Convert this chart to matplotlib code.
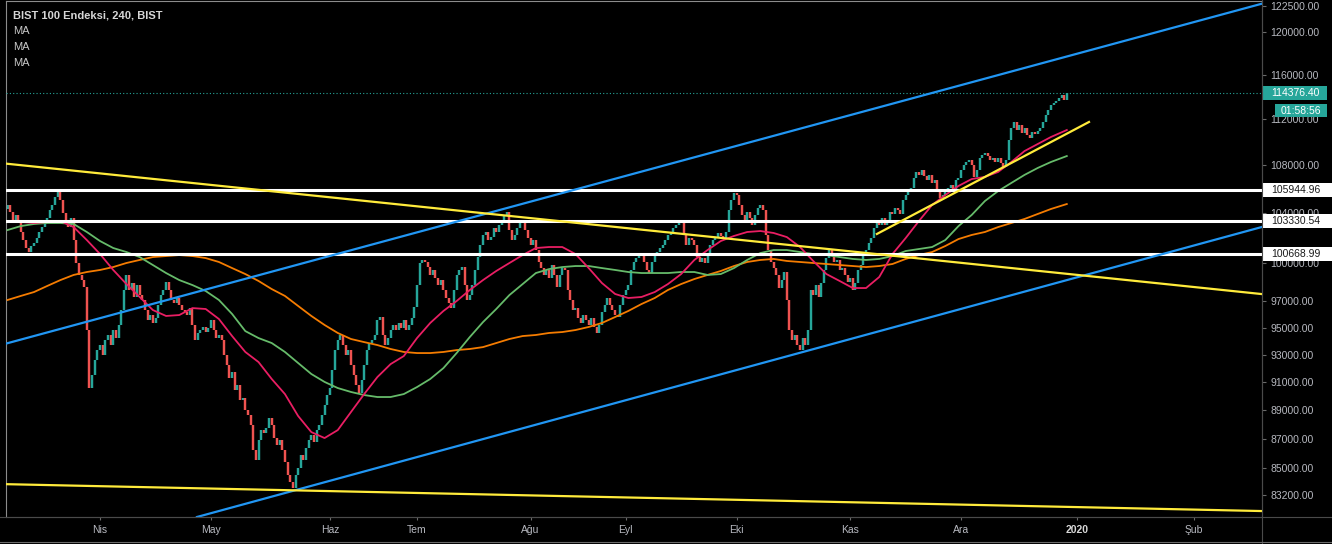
import numpy as np
import matplotlib
matplotlib.use("Agg")
import matplotlib.pyplot as plt
from matplotlib.ticker import FixedLocator, FuncFormatter, NullLocator
from matplotlib.patches import Rectangle
from matplotlib.lines import Line2D

# 4h closes, BIST 100 (bar index 0 = first visible bar)
closes = [
    104670, 104090, 103430, 103850, 103270, 102460, 101810, 101170, 100850, 101330,
    101570, 101970, 102460, 102860, 103270, 103600, 104260, 104670, 105330, 105750,
    105080, 104010, 103430, 102860, 103600, 101810, 99980, 99040, 98640, 98100,
    94820, 90570, 91510, 92600, 93330, 93700, 92970, 94070, 94450, 93700,
    94820, 94220, 95200, 96330, 97870, 99040, 97870, 98410, 97330, 98250,
    97480, 97100, 96330, 95570, 95950, 95350, 95730, 96710, 97480, 97870,
    98490, 97870, 97100, 96870, 97250, 96710, 96330, 96180, 95950, 96480,
    95200, 94070, 94600, 94820, 95050, 94670, 94970, 95570, 94820, 94220,
    94450, 94070, 92970, 92230, 91290, 91720, 90430, 90790, 89720, 89860,
    89010, 88660, 87960, 86240, 85560, 86920, 87610, 87400, 87750, 88450,
    87960, 87060, 86580, 86920, 86240, 85430, 84550, 84080, 83680, 84550,
    85020, 85900, 85560, 86380, 86920, 87270, 86790, 87610, 87960, 88660,
    89360, 90070, 90570, 91870, 93330, 94070, 94450, 93700, 92970, 93330,
    92230, 91510, 90790, 90220, 91150, 92230, 93330, 93850, 94070, 94450,
    95570, 95800, 94450, 93700, 94220, 94820, 95200, 94820, 95350, 94970,
    95570, 94820, 95200, 95730, 96560, 98250, 99980, 100220, 100060, 99660,
    99040, 99430, 98800, 98250, 98640, 97870, 97250, 96870, 96480, 97870,
    99040, 99430, 99660, 98250, 97100, 97480, 98250, 99430, 100450, 101410,
    102220, 102460, 101810, 102050, 102780, 102460, 103030, 103270, 103850, 104090,
    102620, 101810, 102220, 102780, 103270, 103430, 102620, 101970, 101410, 101810,
    101010, 100060, 99580, 99040, 99430, 98800, 99820, 99040, 98100, 99040,
    99580, 99430, 97870, 97100, 96330, 96480, 95730, 95350, 95950, 95570,
    95200, 95730, 95050, 94600, 95200, 96180, 96710, 97250, 96710, 96330,
    95950, 95800, 96710, 97480, 97870, 98250, 99430, 100060, 100370, 100770,
    100610, 100060, 99430, 99190, 100060, 100610, 100850, 101170, 101410, 101810,
    102220, 102460, 102780, 103030, 103270, 103430, 102220, 101410, 101970, 101810,
    101410, 100450, 100060, 100370, 99980, 100610, 101410, 101810, 102050, 102380,
    102140, 101970, 102460, 104260, 105080, 105670, 105500, 104670, 103850, 103430,
    104090, 103600, 103030, 103850, 104420, 104670, 104260, 102220, 101010, 100060,
    99580, 99040, 98020, 98640, 99270, 97100, 94820, 94070, 94450, 93700,
    93330, 94220, 93700, 94820, 97870, 97480, 98250, 97330, 98410, 99430,
    100370, 101010, 100610, 100060, 100220, 99430, 99580, 99040, 98490, 98800,
    97870, 98410, 99430, 99820, 100610, 101010, 101570, 101970, 102780, 103430,
    103030, 103600, 103030, 103270, 104090, 103930, 104420, 104260, 103930, 105080,
    105500, 105920, 106090, 106930, 107440, 107190, 107610, 107100, 106760, 107190,
    106510, 106760, 105920, 105250, 105500, 105920, 106090, 106340, 106000, 106760,
    106930, 107610, 108030, 108290, 108460, 108030, 107020, 107610, 108630, 108890,
    109060, 108800, 108460, 108630, 108290, 108630, 108200, 107860, 108460, 110190,
    111240, 111770, 111060, 111500, 110800, 111240, 110630, 110360, 110890, 110710,
    110970, 111240, 111770, 112390, 112830, 113280, 113460, 113640, 113910, 114180,
    113730, 114376.40,
]
first_open = 104300

# moving averages, every 5 bars (last one at the last bar)
ma_idx = list(range(0, 400, 5)) + [401]
ma_pink = [
    103350, 103270, 103190, 103270, 103350, 102860, 101810, 100690, 99430, 98330,
    97330, 96330, 95880, 95950, 96480, 96410, 95650, 94370, 93190, 92450,
    91220, 90140, 88590, 87470, 87060, 87610, 88870, 90140, 91360, 92300,
    92890, 94220, 95350, 96260, 97020, 97870, 98640, 99350, 99980, 100610,
    101170, 101250, 101250, 100690, 99580, 98410, 97560, 97250, 97330, 97710,
    98330, 99110, 100220, 101010, 101730, 102140, 102460, 102540, 102380, 102050,
    101250, 100140, 99110, 98570, 98020, 98020, 98880, 100690, 101970, 103350,
    104670, 105500, 106260, 106840, 107020, 107440, 108290, 109230, 109840, 110450,
    111060,
]
ma_green = [
    102620, 102940, 103110, 103190, 103190, 103110, 102460, 101730, 101170, 100850,
    100450, 99820, 99190, 98640, 98250, 97790, 97100, 96030, 94740, 94220,
    93850, 93190, 92380, 91580, 91010, 90570, 90290, 90070, 89930, 89930,
    90140, 90640, 91220, 92010, 93110, 94300, 95420, 96410, 97480, 98330,
    99190, 99500, 99660, 99740, 99740, 99580, 99430, 99270, 99190, 99190,
    99190, 99270, 99270, 99040, 99110, 99580, 100220, 100770, 101010, 101010,
    100850, 100690, 100610, 100450, 100300, 100220, 100300, 100530, 100930, 101090,
    101250, 101810, 102940, 103850, 105000, 105830, 106510, 107190, 107780, 108290,
    108800,
]
ma_orange = [
    97100, 97410, 97710, 98180, 98640, 99040, 99270, 99430, 99660, 99980,
    100220, 100450, 100530, 100610, 100530, 100370, 100060, 99580, 99110, 98570,
    97940, 97410, 96640, 95880, 95200, 94600, 94150, 93920, 93700, 93410,
    93190, 93110, 93110, 93190, 93330, 93410, 93550, 93850, 94150, 94370,
    94450, 94600, 94670, 94820, 95050, 95350, 95800, 96260, 96790, 97250,
    97870, 98330, 98720, 99040, 99350, 99740, 100060, 100220, 100300, 100140,
    100060, 99980, 99900, 99820, 99740, 99660, 99740, 99900, 100300, 100610,
    100850, 101330, 101890, 102220, 102460, 102860, 103190, 103520, 103930, 104340,
    104750,
]

# horizontal levels and trend lines (bar index, price)
levels = [105944.96, 103330.54, 100668.99]
last_price = 114376.40
blue_up = [(0, 93840), (400, 117640)]
blue_low = [(100, 83120), (400, 98580)]
yellow_long = [(0, 108135), (400, 99150)]
yellow_bottom = [(0, 83941), (400, 82454)]
yellow_short = [(329.1, 102300), (409.4, 111770)]

month_pos = [35, 77, 122, 155, 198, 234, 276, 319, 361, 405, 449]
month_lbl = ['Nis', 'May', 'Haz', 'Tem', 'Ağu', 'Eyl', 'Eki', 'Kas', 'Ara', '2020', 'Şub']
yticks = [122500, 120000, 116000, 112000, 108000, 104000, 100000, 97000, 95000,
          93000, 91000, 89000, 87000, 85000, 83200]

UP, DOWN = '#26a69a', '#ef5350'
TXT = '#b7b9c0'
W, H = 1332, 544

fig = plt.figure(figsize=(W / 100, H / 100), dpi=100, facecolor='black')
ax = fig.add_axes([6 / W, 27 / H, 1256 / W, 516 / H])
ax.set_facecolor('black')
ax.set_yscale('log')
ax.set_xlim(-0.6, 474.9)
ax.set_ylim(81793, 122985)

# candles
c = np.array(closes, dtype=float)
o = np.r_[first_open, c[:-1]]
x = np.arange(len(c))
col = np.where(c >= o, UP, DOWN)
ax.vlines(x, o, c, colors=col, lw=1.75, zorder=2)

# moving averages
ax.plot(ma_idx, ma_orange, color='#f57c00', lw=1.3, zorder=3)
ax.plot(ma_idx, ma_green, color='#66bb6a', lw=1.3, zorder=3)
ax.plot(ma_idx, ma_pink, color='#e91e63', lw=1.3, zorder=3)

# drawings
for p in levels:
    ax.axhline(p, color='white', lw=2.2, zorder=4)
ax.axhline(last_price, color=UP, lw=0.8, ls=(0, (1, 2)), zorder=4)
ax.axline(*blue_up, color='#2196f3', lw=1.6, zorder=4)
ax.axline(*blue_low, color='#2196f3', lw=1.6, zorder=4)
ax.axline(*yellow_long, color='#ffeb3b', lw=1.6, zorder=4)
ax.axline(*yellow_bottom, color='#ffeb3b', lw=1.6, zorder=4)
ax.plot([yellow_short[0][0], yellow_short[1][0]], [yellow_short[0][1], yellow_short[1][1]],
        color='#ffeb3b', lw=1.6, zorder=4)

# axes styling
for s in ['left', 'top']:
    ax.spines[s].set_color('#8c8c8c')
for s in ['right', 'bottom']:
    ax.spines[s].set_color('#4a4a4a')
for s in ax.spines.values():
    s.set_linewidth(0.8)

ax.yaxis.tick_right()
ax.yaxis.set_major_locator(FixedLocator(yticks))
ax.yaxis.set_minor_locator(NullLocator())
ax.yaxis.set_major_formatter(FuncFormatter(lambda v, _: f'{v:.2f}'))
ax.tick_params(axis='y', colors='#6a6a6a', labelcolor=TXT, length=3, width=0.8, pad=3,
               labelsize=7.5, labelfontfamily='Liberation Sans')
ax.set_xticks(month_pos)
ax.set_xticklabels(month_lbl)
ax.tick_params(axis='x', colors='#6a6a6a', labelcolor=TXT, length=2.5, width=0.8, pad=3.5,
               labelsize=7.5, labelfontfamily='Liberation Sans')
for t in ax.get_xticklabels():
    if t.get_text() == '2020':
        t.set_fontweight('bold')
        t.set_color('#d8d8d8')

# separators of the price / time scales
fig.add_artist(Line2D([1262 / W, 1262 / W], [0, 1], color='#4a4a4a', lw=0.8))
fig.add_artist(Line2D([0, 1], [27 / H, 27 / H], color='#4a4a4a', lw=0.8))
fig.add_artist(Line2D([0, 1], [2 / H, 2 / H], color='#6a6a6a', lw=0.8))


def fig_y(p):
    return fig.transFigure.inverted().transform(ax.transData.transform((0, p)))[1]


def price_tag(p, text, fc, tc, x0=1263, x1=1332, tx=1271):
    yc = fig_y(p)
    fig.add_artist(Rectangle((x0 / W, yc - 7 / H), (x1 - x0) / W, 14 / H,
                             transform=fig.transFigure, facecolor=fc, edgecolor='none'))
    fig.text(tx / W, yc, text, color=tc, fontsize=7.5, family='Liberation Sans',
             ha='left', va='center')


for p in levels:
    price_tag(p, f'{p:.2f}', 'white', '#1a1a1a')
price_tag(last_price, f'{last_price:.2f}', UP, 'white', x1=1327)
# countdown box under the last price
yl = fig_y(last_price) - 18 / H
fig.add_artist(Rectangle((1275 / W, yl - 6.5 / H), 52 / W, 13 / H,
                         transform=fig.transFigure, facecolor=UP, edgecolor='none'))
fig.text(1301 / W, yl, '01:58:56', color='white', fontsize=7.5, family='Liberation Sans',
         ha='center', va='center')

# legend text
fig.text(13 / W, 1 - 15 / H, 'BIST 100 Endeksi, 240, BIST', color='#d6d6d6', fontsize=8,
         fontweight='bold', family='Liberation Sans', ha='left', va='center')
for k in range(3):
    fig.text(13 / W, 1 - (31 + 16 * k) / H, 'MA', color='#c8c8c8', fontsize=8,
             family='Liberation Sans', ha='left', va='center')

fig.savefig('out.png', dpi=100, facecolor='black')
